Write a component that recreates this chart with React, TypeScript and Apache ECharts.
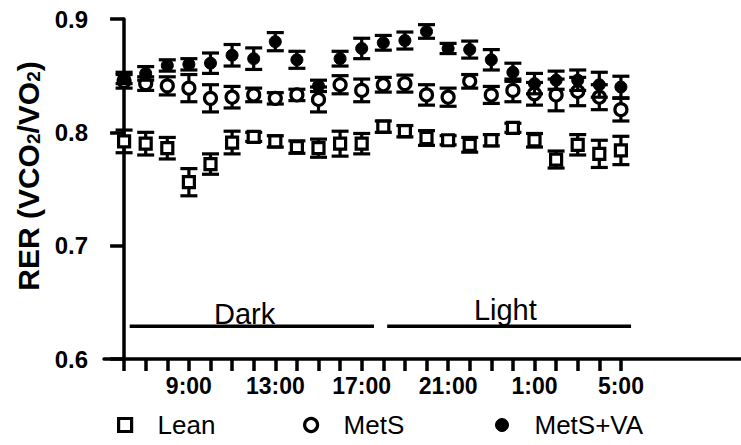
import React, { useEffect, useRef } from "react";
import * as echarts from "echarts";

// Hour of each measurement (one per hour, starting 6:00)
const hours = [
  "6:00", "7:00", "8:00", "9:00", "10:00", "11:00", "12:00", "13:00",
  "14:00", "15:00", "16:00", "17:00", "18:00", "19:00", "20:00", "21:00",
  "22:00", "23:00", "0:00", "1:00", "2:00", "3:00", "4:00", "5:00",
];
const labelIndices = [3, 7, 11, 15, 19, 23];

const leanMean = [0.792, 0.790, 0.786, 0.756, 0.772, 0.791, 0.796, 0.792, 0.787, 0.786, 0.790, 0.790,
  0.805, 0.801, 0.795, 0.793, 0.789, 0.793, 0.804, 0.793, 0.776, 0.789, 0.781, 0.784];
const leanErr = [0.010, 0.010, 0.0095, 0.012, 0.009, 0.010, 0.004, 0.005, 0.0055, 0.008, 0.011, 0.009,
  0.005, 0.005, 0.0065, 0.004, 0.0065, 0.005, 0.004, 0.006, 0.0075, 0.009, 0.012, 0.0125];

const metsMean = [0.845, 0.843, 0.841, 0.839, 0.830, 0.831, 0.833, 0.830, 0.833, 0.829, 0.842, 0.837,
  0.842, 0.843, 0.833, 0.831, 0.845, 0.833, 0.837, 0.834, 0.833, 0.836, 0.831, 0.820];
const metsErr = [0.006, 0.006, 0.008, 0.012, 0.012, 0.0095, 0.006, 0.005, 0.005, 0.011, 0.008, 0.010,
  0.0065, 0.0075, 0.009, 0.008, 0.006, 0.0075, 0.010, 0.010, 0.014, 0.0125, 0.011, 0.010];

const vaMean = [0.848, 0.852, 0.859, 0.860, 0.861, 0.868, 0.865, 0.880, 0.864, 0.841, 0.865, 0.874,
  0.879, 0.881, 0.889, 0.874, 0.873, 0.864, 0.853, 0.843, 0.846, 0.846, 0.842, 0.840];
const vaErr = [0.005, 0.006, 0.005, 0.005, 0.009, 0.0095, 0.0095, 0.008, 0.0075, 0.005, 0.0065, 0.009,
  0.0065, 0.0075, 0.006, 0.0045, 0.0075, 0.009, 0.008, 0.009, 0.008, 0.009, 0.011, 0.0095];

// Dark / Light period bars (start hour index, end hour index) and label positions
const periodNames = ["Dark", "Light"];
const periodStart = [0.26, 12.18];
const periodEnd = [11.57, 23.47];
const periodLabelX = [5.58, 17.65];
const periodY = 0.629;

const FONT = "Arial, 'Liberation Sans', Helvetica, sans-serif";

function errorBars(mean: number[], err: number[], z: number) {
  return {
    type: "custom",
    z,
    silent: true,
    data: mean.map((m, i) => [i, m - err[i], m + err[i]]),
    encode: { x: 0, y: [1, 2] },
    renderItem: (_params: any, api: any) => {
      const x = api.value(0);
      const lo = api.coord([x, api.value(1)]);
      const hi = api.coord([x, api.value(2)]);
      const hw = 8.5;
      const style = { stroke: "#000", lineWidth: 3.2, fill: "none", opacity: 1 };
      return {
        type: "group",
        children: [
          { type: "line", shape: { x1: lo[0], y1: lo[1], x2: hi[0], y2: hi[1] }, style },
          { type: "line", shape: { x1: lo[0] - hw, y1: lo[1], x2: lo[0] + hw, y2: lo[1] }, style },
          { type: "line", shape: { x1: hi[0] - hw, y1: hi[1], x2: hi[0] + hw, y2: hi[1] }, style },
        ],
      };
    },
  };
}

export default function App() {
  const ref = useRef<HTMLDivElement>(null);

  useEffect(() => {
    if (!ref.current) return;
    const chart = echarts.init(ref.current, undefined, { renderer: "svg" });

    const openStyle = { color: "#fff", borderColor: "#000", borderWidth: 3.2, opacity: 1 };
    const filledStyle = { color: "#000", borderColor: "#000", borderWidth: 1, opacity: 1 };
    const legendText = {
      fontSize: 26,
      color: "#000",
      fontFamily: FONT,
      padding: [0, 0, 0, 21],
    };

    const option: any = {
      animation: false,
      backgroundColor: "#fff",
      grid: { left: 104, right: 0, top: 19, bottom: 86, containLabel: false },
      xAxis: {
        type: "value",
        min: -0.93,
        max: 28.56,
        splitLine: { show: false },
        axisLine: { show: true, onZero: false, lineStyle: { color: "#000", width: 3.5 } },
        axisTick: {
          show: true,
          customValues: hours.map((_, i) => i),
          length: 12,
          lineStyle: { color: "#000", width: 3.5 },
        },
        axisLabel: {
          show: true,
          customValues: labelIndices,
          formatter: (v: number) => hours[Math.round(v)],
          fontSize: 23,
          fontWeight: "bold",
          color: "#000",
          fontFamily: FONT,
          margin: 15,
        },
      },
      yAxis: {
        type: "value",
        min: 0.6,
        max: 0.9,
        interval: 0.1,
        splitLine: { show: false },
        axisLine: { show: true, lineStyle: { color: "#000", width: 3.5 } },
        axisTick: { show: true, length: 14, lineStyle: { color: "#000", width: 3.5 } },
        axisLabel: {
          fontSize: 24,
          fontWeight: "bold",
          color: "#000",
          fontFamily: FONT,
          margin: 16,
          formatter: (v: number) => v.toFixed(1),
        },
        name: "RER (VCO{sub|2}/VO{sub|2})",
        nameLocation: "middle",
        nameGap: 61,
        nameTextStyle: {
          fontSize: 30,
          fontWeight: "bold",
          color: "#000",
          fontFamily: FONT,
          padding: [0, 0, 0, 26],
          rich: {
            sub: {
              fontSize: 19,
              fontWeight: "bold",
              color: "#000",
              fontFamily: FONT,
              verticalAlign: "bottom",
            },
          },
        },
      },
      legend: [
        {
          left: 117, top: 412, padding: 0, itemWidth: 13, itemHeight: 13,
          textStyle: legendText, selectedMode: false,
          data: [{ name: "Lean", icon: "rect", itemStyle: openStyle }],
        },
        {
          left: 303, top: 412, padding: 0, itemWidth: 13, itemHeight: 13,
          textStyle: legendText, selectedMode: false,
          data: [{ name: "MetS", icon: "circle", itemStyle: openStyle }],
        },
        {
          left: 495, top: 412, padding: 0, itemWidth: 13, itemHeight: 13,
          textStyle: legendText, selectedMode: false,
          data: [{ name: "MetS+VA", icon: "circle", itemStyle: filledStyle }],
        },
      ],
      series: [
        // period bars
        ...periodNames.map((n, i) => ({
          type: "line",
          name: n + " period",
          data: [[periodStart[i], periodY], [periodEnd[i], periodY]],
          symbol: "none",
          silent: true,
          lineStyle: { color: "#000", width: 3.5, opacity: 1 },
          z: 1,
        })),
        {
          type: "scatter",
          name: "period labels",
          symbolSize: 0,
          silent: true,
          itemStyle: { opacity: 1 },
          data: periodNames.map((n, i) => ({
            value: [periodLabelX[i], periodY],
            name: n,
            label: { distance: i === 0 ? -2 : 2 },
          })),
          label: {
            show: true,
            position: "top",
            formatter: (p: any) => p.name,
            fontSize: 29,
            color: "#000",
            fontFamily: FONT,
          },
          z: 1,
        },
        errorBars(leanMean, leanErr, 2),
        {
          type: "scatter",
          name: "Lean",
          symbol: "rect",
          symbolSize: 11,
          itemStyle: openStyle,
          data: leanMean.map((m, i) => [i, m]),
          z: 3,
        },
        errorBars(metsMean, metsErr, 4),
        {
          type: "scatter",
          name: "MetS",
          symbol: "circle",
          symbolSize: 12,
          itemStyle: openStyle,
          data: metsMean.map((m, i) => [i, m]),
          z: 5,
        },
        errorBars(vaMean, vaErr, 6),
        {
          type: "scatter",
          name: "MetS+VA",
          symbol: "circle",
          symbolSize: 12,
          itemStyle: filledStyle,
          data: vaMean.map((m, i) => [i, m]),
          z: 7,
        },
      ],
    };

    chart.setOption(option);
    return () => chart.dispose();
  }, []);

  return <div ref={ref} style={{ width: 741, height: 445, position: "absolute", left: 0, top: 0 }} />;
}
